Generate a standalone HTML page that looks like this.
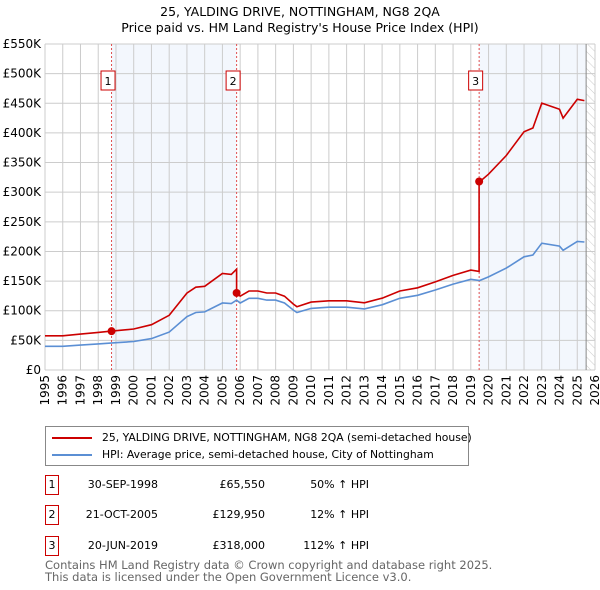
<!DOCTYPE html>
<html><head><meta charset="utf-8">
<style>
body{margin:0;background:#fff;font-family:"DejaVu Sans","Liberation Sans",sans-serif;}
#wrap{position:relative;width:600px;height:590px;overflow:hidden}
svg text{font-family:"DejaVu Sans","Liberation Sans",sans-serif;}
</style></head>
<body><div id="wrap">
<svg id="chart" width="600" height="590">
<defs><pattern id="hatch" width="6" height="6" patternUnits="userSpaceOnUse" patternTransform="rotate(-45)"><line x1="0" y1="0" x2="0" y2="6" stroke="#ccc" stroke-width="1"/></pattern></defs>
<text x="300" y="16" text-anchor="middle" font-size="12.5" fill="#000">25, YALDING DRIVE, NOTTINGHAM, NG8 2QA</text>
<text x="300" y="32" text-anchor="middle" font-size="12.5" fill="#000">Price paid vs. HM Land Registry's House Price Index (HPI)</text>
<g id="plot"></g>
</svg>
<div style="position:absolute;left:45px;top:426px;width:424px;height:40px;border:1px solid #888;box-sizing:border-box;font-size:10.8px">
 <div style="position:absolute;left:6px;top:4px;white-space:nowrap"><span style="display:inline-block;width:40px;height:2px;background:#cc0000;vertical-align:middle;margin-right:10px"></span>25, YALDING DRIVE, NOTTINGHAM, NG8 2QA (semi-detached house)</div>
 <div style="position:absolute;left:6px;top:21px;white-space:nowrap"><span style="display:inline-block;width:40px;height:2px;background:#5b8fd4;vertical-align:middle;margin-right:10px"></span>HPI: Average price, semi-detached house, City of Nottingham</div>
</div>
<div id="table" style="font-size:11px"></div>
<div style="position:absolute;left:45px;top:559px;font-size:11.5px;color:#666;line-height:12px">Contains HM Land Registry data © Crown copyright and database right 2025.<br>This data is licensed under the Open Government Licence v3.0.</div>
</div>
<script>
const hpiYears=[1995,1996,1997,1998,1999,2000,2001,2002,2003,2003.5,2004,2005,2005.5,2005.8,2006,2006.5,2007,2007.5,2008,2008.5,2009,2009.2,2010,2011,2012,2013,2014,2015,2016,2017,2018,2019,2019.5,2020,2021,2022,2022.5,2023,2024,2024.2,2025,2025.4];
const hpiValues=[40,40,42,44,46,48,53,64,90,97,98,113,112,118,113,121,121,118,118,113,101,97,104,106,106,103,110,121,126,135,145,153,151,157,172,191,194,214,209,202,217,216];
const saleDates=[1998.75,2005.8,2019.47];
const salePrices=[65.55,129.95,318];
const saleLabels=["1","2","3"];
const saleDateText=["30-SEP-1998","21-OCT-2005","20-JUN-2019"];
const salePriceText=["£65,550","£129,950","£318,000"];
const saleHpiText=["50% ↑ HPI","12% ↑ HPI","112% ↑ HPI"];
const yTicks=[0,50,100,150,200,250,300,350,400,450,500,550];
const yTickLabels=["£0","£50K","£100K","£150K","£200K","£250K","£300K","£350K","£400K","£450K","£500K","£550K"];
const xTicks=[1995,1996,1997,1998,1999,2000,2001,2002,2003,2004,2005,2006,2007,2008,2009,2010,2011,2012,2013,2014,2015,2016,2017,2018,2019,2020,2021,2022,2023,2024,2025,2026];

const X0=45,X1=595,Y0=370,Y1=44;
const xs=t=>X0+(t-1995)/(2026-1995)*(X1-X0);
const ys=v=>Y0-v/550*(Y0-Y1);
const NS="http://www.w3.org/2000/svg";
const g=document.getElementById('plot');
function mk(tag,attrs,parent){const e=document.createElementNS(NS,tag);for(const k in attrs)e.setAttribute(k,attrs[k]);(parent||g).appendChild(e);return e;}
function hpiAt(t){for(let i=1;i<hpiYears.length;i++){if(t<=hpiYears[i]){const a=hpiYears[i-1],b=hpiYears[i];return hpiValues[i-1]+(hpiValues[i]-hpiValues[i-1])*(t-a)/(b-a);}}return hpiValues[hpiValues.length-1];}

let r=mk('rect',{x:xs(saleDates[0]),y:Y1,width:xs(saleDates[1])-xs(saleDates[0]),height:Y0-Y1,fill:'#eef3fc',opacity:0.7});


r=mk('rect',{x:xs(saleDates[2]),y:Y1,width:xs(2025.5)-xs(saleDates[2]),height:Y0-Y1,fill:'#eef3fc',opacity:0.7});


r=mk('rect',{x:xs(2025.5),y:Y1,width:X1-xs(2025.5),height:Y0-Y1,fill:'url(#hatch)'});


yTicks.forEach((v,i)=>{
 const l=mk('line',{x1:X0,x2:X1,y1:ys(v),y2:ys(v),stroke:'#ccc','stroke-width':1});
 
 
 const t=mk('text',{x:X0-4,y:ys(v)+4,'text-anchor':'end','font-size':12,fill:'#000'});
 t.textContent=yTickLabels[i];
 
 
});
xTicks.forEach(v=>{
 const l=mk('line',{x1:xs(v),x2:xs(v),y1:Y1,y2:Y0,stroke:'#ccc','stroke-width':1});
 
 
 const t=mk('text',{x:0,y:0,'text-anchor':'end','font-size':12,fill:'#000',transform:`translate(${xs(v)+4},${Y0+5}) rotate(-90)`});
 t.textContent=v;
 
 
});
let bl=mk('line',{x1:xs(2025.5),x2:xs(2025.5),y1:Y1,y2:Y0,stroke:'#888','stroke-width':1});


saleDates.forEach((d,i)=>{
 const l=mk('line',{x1:xs(d),x2:xs(d),y1:Y1,y2:Y0,stroke:'#e05050','stroke-width':1,'stroke-dasharray':'2,2'});
 
 
 const b=mk('rect',{x:xs(d)-10.5,y:71,width:14,height:19,fill:'#fff',stroke:'#cc0000'});
 
 
 const t=mk('text',{x:xs(d)-3.5,y:85,'text-anchor':'middle','font-size':11,fill:'#000'});
 t.textContent=saleLabels[i];
 
 
});
const hp=hpiYears.map((t,i)=>`${xs(t).toFixed(1)},${ys(hpiValues[i]).toFixed(1)}`).join(' ');
const hl=mk('polyline',{points:hp,fill:'none',stroke:'#5b8fd4','stroke-width':1.6});


const ratios=saleDates.map((d,i)=>salePrices[i]/hpiAt(d));
const pts=[];
function ratioAt(t){let k=0;for(let i=0;i<saleDates.length;i++)if(t>=saleDates[i])k=i;return ratios[k];}
const times=hpiYears.concat(saleDates).sort((a,b)=>a-b);
times.forEach(t=>{
 const si=saleDates.indexOf(t);
 if(si>0){pts.push([t,hpiAt(t)*ratios[si-1]]);}
 pts.push([t,hpiAt(t)*ratioAt(t)]);
});
const pl=mk('polyline',{points:pts.map(p=>`${xs(p[0]).toFixed(1)},${ys(p[1]).toFixed(1)}`).join(' '),fill:'none',stroke:'#cc0000','stroke-width':1.6});


saleDates.forEach((d,i)=>{
 const c=mk('circle',{cx:xs(d),cy:ys(salePrices[i]),r:4,fill:'#cc0000'});
 
 
});
const tb=document.getElementById('table');
const rowY=[475,505,536];
saleDates.forEach((d,i)=>{
 const row=document.createElement('div');
 
 
 row.style.cssText=`position:absolute;left:0;top:${rowY[i]}px;width:600px;height:20px`;
 row.innerHTML=`<div style="position:absolute;left:45px;top:0;width:14px;height:20px;border:1px solid #cc0000;box-sizing:border-box;text-align:center;line-height:18px">${saleLabels[i]}</div>
 <div style="position:absolute;right:${600-158}px;top:3px;white-space:nowrap">${saleDateText[i]}</div>
 <div style="position:absolute;right:${600-265}px;top:3px;white-space:nowrap">${salePriceText[i]}</div>
 <div style="position:absolute;right:${600-369}px;top:3px;white-space:nowrap">${saleHpiText[i]}</div>`;
 tb.appendChild(row);
});
</script>
</body></html>
